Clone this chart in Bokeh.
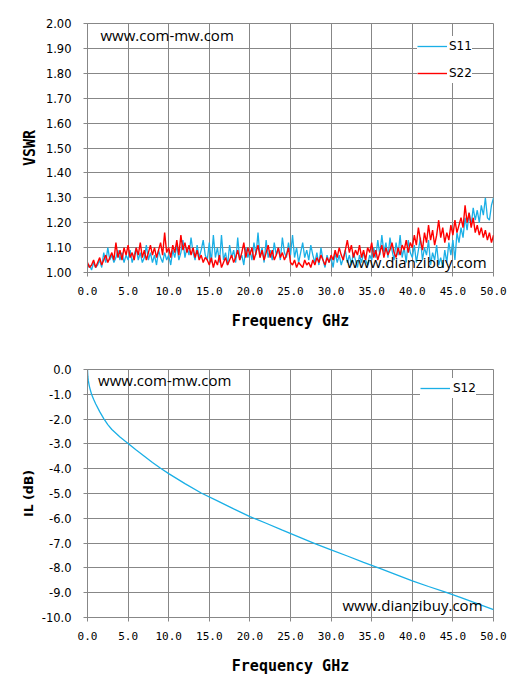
import numpy as np
from bokeh.plotting import figure
from bokeh.layouts import column
from bokeh.models import Range1d, FixedTicker, PrintfTickFormatter, Label
from bokeh.embed import file_html
from bokeh.resources import INLINE

# ---------------- data ----------------
s11 = [
    1.02,1.03,1.01,1.04,1.02,1.03,1.05,1.02,1.08,1.04,1.10,1.05,1.07,1.04,1.06,1.09,1.05,1.08,1.04,1.07,
    1.05,1.09,1.04,1.07,1.10,1.05,1.08,1.04,1.06,1.11,1.05,1.08,1.04,1.07,1.03,1.09,1.06,1.04,1.08,1.05,
    1.07,1.03,1.09,1.06,1.11,1.05,1.08,1.13,1.06,1.10,1.07,1.14,1.08,1.05,1.11,1.06,1.09,1.13,1.07,1.05,
    1.12,1.04,1.15,1.06,1.10,1.04,1.15,1.05,1.08,1.03,1.11,1.06,1.09,1.04,1.14,1.05,1.07,1.03,1.10,1.06,
    1.09,1.05,1.12,1.07,1.16,1.06,1.10,1.04,1.13,1.06,1.09,1.05,1.12,1.07,1.10,1.05,1.14,1.08,1.06,1.12,
    1.07,1.15,1.06,1.10,1.04,1.08,1.12,1.06,1.09,1.05,1.11,1.07,1.04,1.08,1.03,1.10,1.05,1.02,1.07,1.04,
    1.06,1.02,1.08,1.04,1.07,1.03,1.06,1.09,1.04,1.07,1.03,1.08,1.05,1.02,1.07,1.04,1.08,1.05,1.03,1.07,
    1.05,1.10,1.06,1.13,1.07,1.15,1.08,1.12,1.06,1.14,1.09,1.05,1.12,1.07,1.15,1.06,1.10,1.04,1.13,1.08,
    1.06,1.11,1.04,1.09,1.14,1.05,1.10,1.07,1.13,1.03,1.08,1.05,1.11,1.03,1.06,1.02,1.09,1.04,1.12,1.07,
    1.13,1.05,1.16,1.12,1.18,1.14,1.22,1.17,1.24,1.19,1.26,1.21,1.25,1.20,1.27,1.23,1.30,1.22,1.21,1.27,1.30,
]
s22 = [
    1.04,1.02,1.03,1.05,1.02,1.04,1.06,1.03,1.05,1.07,1.04,1.06,1.08,1.05,1.12,1.06,1.09,1.05,1.10,1.07,
    1.11,1.06,1.08,1.05,1.10,1.07,1.12,1.06,1.09,1.05,1.08,1.11,1.07,1.10,1.06,1.09,1.12,1.07,1.16,1.08,
    1.10,1.06,1.11,1.08,1.13,1.07,1.15,1.09,1.12,1.08,1.11,1.07,1.10,1.06,1.09,1.05,1.07,1.04,1.06,1.05,
    1.03,1.06,1.02,1.05,1.03,1.07,1.02,1.04,1.06,1.03,1.05,1.07,1.04,1.06,1.09,1.05,1.08,1.12,1.06,1.10,
    1.07,1.10,1.05,1.08,1.11,1.06,1.09,1.05,1.08,1.11,1.06,1.09,1.05,1.07,1.10,1.06,1.08,1.05,1.07,1.10,
    1.04,1.03,1.05,1.02,1.04,1.03,1.02,1.05,1.03,1.04,1.02,1.05,1.03,1.06,1.04,1.07,1.05,1.03,1.06,1.04,
    1.07,1.05,1.09,1.06,1.10,1.07,1.05,1.09,1.13,1.08,1.11,1.06,1.09,1.07,1.11,1.06,1.09,1.05,1.10,1.08,
    1.12,1.06,1.09,1.05,1.08,1.11,1.06,1.10,1.07,1.09,1.12,1.08,1.06,1.10,1.07,1.11,1.09,1.13,1.08,1.12,
    1.10,1.15,1.11,1.18,1.13,1.09,1.16,1.12,1.19,1.13,1.17,1.11,1.15,1.21,1.14,1.18,1.12,1.16,1.13,1.19,
    1.15,1.21,1.16,1.19,1.22,1.18,1.27,1.20,1.24,1.18,1.22,1.16,1.19,1.15,1.18,1.14,1.17,1.13,1.16,1.12,1.15,
]
freq11 = np.linspace(0, 50, len(s11))
freq22 = np.linspace(0, 50, len(s22))

freq12 = [0, 0.02, 0.05, 0.1, 0.2, 0.3, 0.5, 0.75, 1, 1.5, 2, 2.5, 3, 4, 5, 6, 7, 8, 9, 10,
          12, 14, 16, 18, 20, 22, 24, 26, 28, 30, 32, 34, 36, 38, 40, 42, 44, 46, 48, 50]
s12 = [0, -0.15, -0.3, -0.45, -0.63, -0.77, -1.0, -1.2, -1.38, -1.7, -1.98, -2.22, -2.42,
       -2.72, -2.98, -3.25, -3.5, -3.75, -3.98, -4.2, -4.6, -4.98, -5.3, -5.62, -5.93, -6.2,
       -6.48, -6.75, -7.02, -7.27, -7.52, -7.78, -8.02, -8.27, -8.52, -8.75, -8.97, -9.2,
       -9.44, -9.68]

x_ticks = [0, 5, 10, 15, 20, 25, 30, 35, 40, 45, 50]
vswr_ticks = [1.0, 1.1, 1.2, 1.3, 1.4, 1.5, 1.6, 1.7, 1.8, 1.9, 2.0]
il_ticks = [0, -1, -2, -3, -4, -5, -6, -7, -8, -9, -10]

BLUE = "#1aafe6"
RED = "#ff0000"
GRID = "#878787"


def style(p, yticks, yfmt, ylabel, ylabel_font, ylabel_size, ylabel_standoff):
    p.xaxis.ticker = FixedTicker(ticks=x_ticks)
    p.yaxis.ticker = FixedTicker(ticks=yticks)
    p.xaxis.formatter = PrintfTickFormatter(format="%.1f")
    p.yaxis.formatter = PrintfTickFormatter(format=yfmt)
    p.xgrid.grid_line_color = GRID
    p.ygrid.grid_line_color = GRID
    p.outline_line_color = GRID
    for ax in (p.xaxis, p.yaxis):
        ax.axis_line_color = GRID
        ax.major_tick_line_color = GRID
        ax.major_tick_out = 4
        ax.major_tick_in = 0
        ax.minor_tick_line_color = None
        ax.major_label_text_color = "black"
        ax.axis_label_text_color = "black"
        ax.axis_label_text_font_style = "bold"
    p.xaxis.major_label_text_font = "DejaVu Sans Mono"
    p.xaxis.major_label_text_font_size = "11px"
    p.xaxis.major_label_standoff = 10
    p.yaxis.major_label_text_font = "DejaVu Sans"
    p.yaxis.major_label_text_font_size = "11.5px"
    p.yaxis.major_label_standoff = 12
    p.xaxis.axis_label = "Frequency GHz"
    p.xaxis.axis_label_text_font = "DejaVu Sans Mono"
    p.xaxis.axis_label_text_font_size = "15px"
    p.xaxis.axis_label_standoff = 14
    p.yaxis.axis_label = ylabel
    p.yaxis.axis_label_text_font = ylabel_font
    p.yaxis.axis_label_text_font_size = ylabel_size
    p.yaxis.axis_label_standoff = ylabel_standoff
    p.background_fill_color = "white"
    p.border_fill_color = "white"


# ---------------- top: VSWR ----------------
p1 = figure(width=519, height=345, output_backend="svg", toolbar_location=None,
            x_range=Range1d(0, 50), y_range=Range1d(1.0, 2.0),
            min_border_left=87, min_border_right=26, min_border_top=23, min_border_bottom=73)
style(p1, vswr_ticks, "%.2f", "VSWR", "DejaVu Sans Mono", "15px", 4)
p1.line(freq11, s11, line_color=BLUE, line_width=1.3, legend_label="S11")
p1.line(freq22, s22, line_color=RED, line_width=1.4, legend_label="S22")
p1.add_layout(Label(x=1.6, y=1.952, text="www.com-mw.com", text_font="Open Sans",
                    text_font_size="15px", text_baseline="middle", text_color="black"))
p1.add_layout(Label(x=31.9, y=1.044, text="www.dianzibuy.com", text_font="Open Sans",
                    text_font_size="15px", text_baseline="middle", text_color="black"))
lg = p1.legend[0]
lg.location = (330, 189)
lg.border_line_color = None
lg.background_fill_color = "white"
lg.background_fill_alpha = 1.0
lg.padding = 6
lg.spacing = 7
lg.margin = 0
lg.glyph_width = 30
lg.glyph_height = 20
lg.label_height = 20
lg.label_standoff = 2
lg.label_text_font = "DejaVu Sans"
lg.label_text_font_size = "12px"
lg.label_text_color = "black"

# ---------------- bottom: IL ----------------
p2 = figure(width=519, height=334, output_backend="svg", toolbar_location=None,
            x_range=Range1d(0, 50), y_range=Range1d(-10.0, 0.0),
            min_border_left=87, min_border_right=26, min_border_top=24, min_border_bottom=62)
style(p2, il_ticks, "%.1f", "IL (dB)", "DejaVu Sans", "12.5px", 3)
p2.line(freq12, s12, line_color=BLUE, line_width=1.3, legend_label="S12")
p2.add_layout(Label(x=1.3, y=-0.44, text="www.com-mw.com", text_font="Open Sans",
                    text_font_size="15px", text_baseline="middle", text_color="black"))
p2.add_layout(Label(x=31.4, y=-9.48, text="www.dianzibuy.com", text_font="Open Sans",
                    text_font_size="15px", text_baseline="middle", text_color="black"))
lg2 = p2.legend[0]
lg2.location = (333, 219)
lg2.border_line_color = None
lg2.background_fill_color = "white"
lg2.background_fill_alpha = 1.0
lg2.padding = 4
lg2.margin = 0
lg2.glyph_width = 30
lg2.glyph_height = 20
lg2.label_height = 20
lg2.label_standoff = 3
lg2.label_text_font = "DejaVu Sans"
lg2.label_text_font_size = "12px"
lg2.label_text_color = "black"

layout = column(p1, p2, spacing=0)
open("out.html", "w").write(file_html(layout, INLINE))
